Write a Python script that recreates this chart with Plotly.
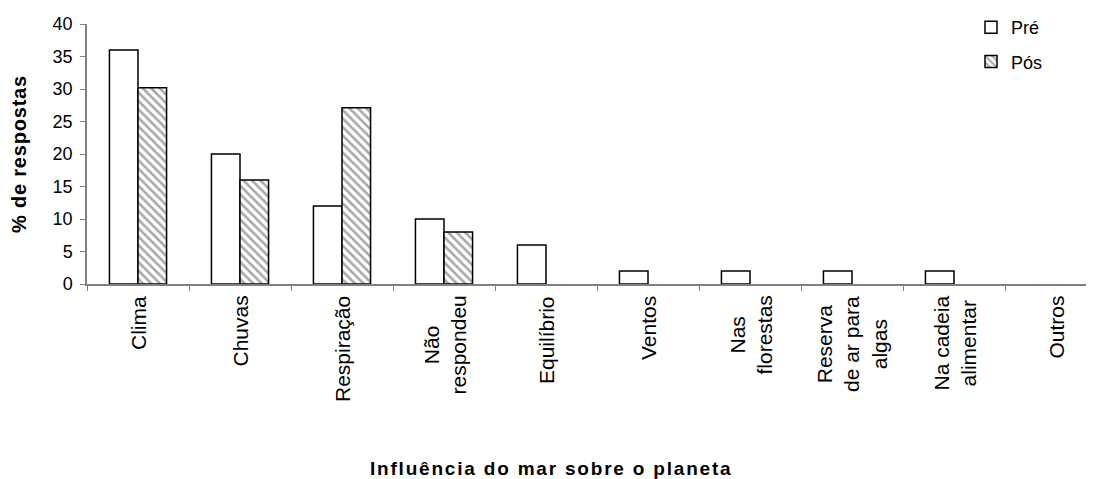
import plotly.graph_objects as go

categories = ["Clima", "Chuvas", "Respiração", "Não respondeu", "Equilíbrio",
              "Ventos", "Nas florestas", "Reserva de ar para algas",
              "Na cadeia alimentar", "Outros"]
category_labels = ["Clima", "Chuvas", "Respiração", "Não<br>respondeu", "Equilíbrio",
                   "Ventos", "Nas<br>florestas", "Reserva<br>de ar para<br>algas",
                   "Na cadeia<br>alimentar", "Outros"]
pre_values = [36, 20, 12, 10, 6, 2, 2, 2, 2, 0]
pos_values = [30.2, 16, 27.1, 8, 0, 0, 0, 0, 0, 0]
y_ticks = [0, 5, 10, 15, 20, 25, 30, 35, 40]

FONT = "Arial, Liberation Sans, sans-serif"
OFF = 8                      # page body margin of the browser
W, H = 1094 - OFF, 479 - OFF
L, T = 87 - OFF, 24 - OFF
B = 479 - 284
R = 0


def visible(values):
    # zero-height bars are not drawn in the reference
    return [v if v else None for v in values]


fig = go.Figure()
fig.add_trace(go.Bar(
    x=categories, y=visible(pre_values), name="Pré", legendgroup="a",
    marker=dict(color="white", line=dict(color="black", width=1.5)),
))
fig.add_trace(go.Bar(
    x=categories, y=visible(pos_values), name="Pós", legendgroup="b",
    marker=dict(color="white", line=dict(color="black", width=1.5),
                pattern=dict(shape="\\", fgcolor="#505050", bgcolor="white",
                             size=6, solidity=0.42)),
))

for cat, lab in zip(categories, category_labels):
    fig.add_annotation(
        x=cat, y=0, xref="x", yref="y", text=lab, showarrow=False,
        textangle=-90, xanchor="center", yanchor="top", yshift=-10,
        align="center", font=dict(family=FONT, size=21, color="black"),
    )

plot_w = W - L - R
plot_h = H - T - B
fig.add_annotation(
    x=(551 - OFF - L) / plot_w, y=(T + plot_h - (468 - OFF)) / plot_h,
    xref="paper", yref="paper", showarrow=False, xanchor="center", yanchor="middle",
    text="<span style='letter-spacing:1.8px'><b>Influência do mar sobre o planeta</b></span>",
    font=dict(family=FONT, size=19, color="black"),
)

fig.update_layout(
    width=W, height=H,
    margin=dict(l=L, r=R, t=T, b=B, pad=0, autoexpand=False),
    paper_bgcolor="white", plot_bgcolor="white",
    barmode="group", bargap=0.44, bargroupgap=0,
    showlegend=True,
    legend=dict(x=(971 - OFF) / W, y=1 - 1 / H, xref="container", yref="container",
                xanchor="left", yanchor="top", traceorder="grouped", tracegroupgap=8,
                font=dict(family=FONT, size=18, color="black"),
                bgcolor="rgba(0,0,0,0)"),
    xaxis=dict(type="category", range=[-0.5, 9.5 - 13 / 102], showticklabels=False,
               ticks="outside", tickson="boundaries", ticklen=5, tickcolor="#808080",
               showline=True, linecolor="#808080", linewidth=1.5, showgrid=False,
               zeroline=False, fixedrange=True),
    yaxis=dict(range=[0, 40], tickvals=y_ticks, ticks="outside", ticklen=5,
               tickcolor="#808080", showline=True, linecolor="#808080", linewidth=1.5,
               showgrid=False, zeroline=False, ticklabelstandoff=4,
               tickfont=dict(family=FONT, size=18, color="black"),
               title=dict(text="<span style='letter-spacing:0.8px'><b>% de respostas</b></span>",
                          font=dict(family=FONT, size=20, color="black"), standoff=22)),
)

fig.write_html("out.html")
